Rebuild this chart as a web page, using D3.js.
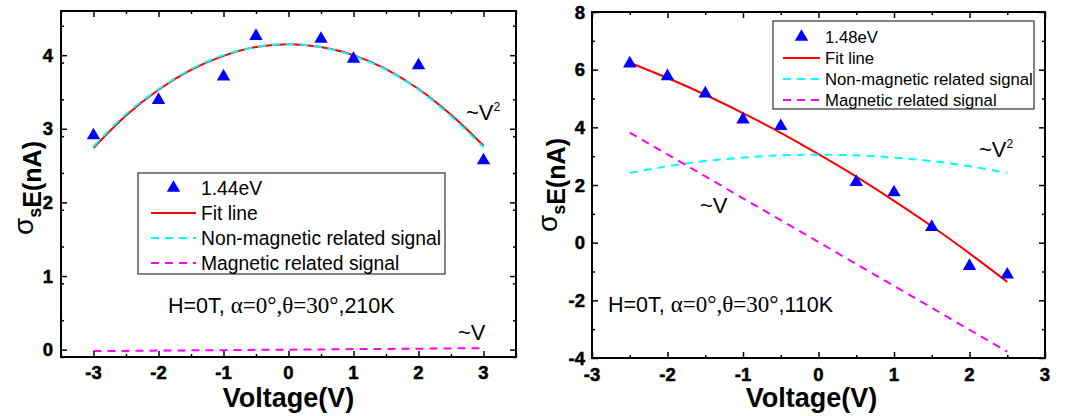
<!DOCTYPE html>
<html>
<head>
<meta charset="utf-8">
<script src="https://cdn.jsdelivr.net/npm/d3@7"></script>
<style>
  body { margin: 0; background: #fff; }
  svg { display: block; }
</style>
</head>
<body>
<div id="chart"></div>
<script>
// ---- data ----
// left panel: 1.44eV, 210K
const leftVoltage = [-3, -2, -1, -0.5, 0.5, 1, 2, 3];
const leftSignal = [2.91, 3.39, 3.71, 4.26, 4.22, 3.95, 3.86, 2.57];
const leftCurveVoltage = [-3, -2.5, -2, -1.5, -1, -0.5, 0, 0.5, 1, 1.5, 2, 2.5, 3];
const leftFit = [2.74, 3.18, 3.53, 3.80, 3.99, 4.11, 4.15, 4.11, 4.00, 3.81, 3.54, 3.19, 2.77];
const leftNonMag = [2.76, 3.20, 3.54, 3.81, 4.00, 4.11, 4.15, 4.11, 3.99, 3.80, 3.53, 3.17, 2.75];
const leftMag = [-0.02, -0.017, -0.013, -0.01, -0.007, -0.003, 0, 0.003, 0.007, 0.01, 0.013, 0.017, 0.02];
const leftXTicks = [-3, -2, -1, 0, 1, 2, 3];
const leftYTicks = [0, 1, 2, 3, 4];

// right panel: 1.48eV, 110K
const rightVoltage = [-2.5, -2, -1.5, -1, -0.5, 0.5, 1, 1.5, 2, 2.5];
const rightSignal = [6.21, 5.77, 5.17, 4.27, 4.04, 2.10, 1.74, 0.54, -0.81, -1.11];
const rightCurveVoltage = [-2.5, -2, -1.5, -1, -0.5, 0, 0.5, 1, 1.5, 2, 2.5];
const rightFit = [6.24, 5.71, 5.13, 4.49, 3.81, 3.07, 2.29, 1.45, 0.57, -0.37, -1.36];
const rightNonMag = [2.42, 2.65, 2.83, 2.95, 3.03, 3.05, 3.03, 2.95, 2.83, 2.65, 2.42];
const rightMag = [3.82, 3.06, 2.30, 1.54, 0.78, 0.02, -0.74, -1.50, -2.26, -3.02, -3.78];
const rightXTicks = [-3, -2, -1, 0, 1, 2, 3];
const rightYTicks = [-4, -2, 0, 2, 4, 6, 8];

const legendLabels = ['Fit line', 'Non-magnetic related signal', 'Magnetic related signal'];

const SANS = '"Liberation Sans", Arial, sans-serif';
const SERIF = '"Liberation Serif", "Times New Roman", serif';

const svg = d3.select('#chart').append('svg')
    .attr('width', 1084)
    .attr('height', 416);

const halves = (domain, step) => d3.range(domain[0], domain[1] + 1e-9, step);

const drawPanel = (p) => {
    const x = d3.scaleLinear().domain(p.xDomain).range([p.left, p.right]);
    const y = d3.scaleLinear().domain(p.yDomain).range([p.bottom, p.top]);
    const g = svg.append('g');
    const w = p.right - p.left;
    const h = p.bottom - p.top;

    // curves
    const line = (xs, ys) => d3.line()
        .x((d, i) => x(xs[i]))
        .y(d => y(d))
        .curve(d3.curveMonotoneX)(ys);

    g.append('path').attr('d', line(p.curveV, p.fit))
        .attr('fill', 'none').attr('stroke', '#ff0000').attr('stroke-width', 2);
    g.append('path').attr('d', line(p.curveV, p.nonMag))
        .attr('fill', 'none').attr('stroke', '#00ffff').attr('stroke-width', 2)
        .attr('stroke-dasharray', '8,6');
    g.append('path').attr('d', line(p.curveV, p.mag))
        .attr('fill', 'none').attr('stroke', '#ff00ff').attr('stroke-width', 2)
        .attr('stroke-dasharray', '8,6');

    // points
    const tri = d3.symbol().type(d3.symbolTriangle).size(78);
    g.selectAll('path.pt')
        .data(p.voltage)
        .enter().append('path')
            .attr('class', 'pt')
            .attr('d', tri)
            .attr('transform', (d, i) => `translate(${x(d)},${y(p.signal[i])})`)
            .attr('fill', '#0000ff');

    // tick marks, inward on all four sides
    const styleAxis = sel => {
        sel.select('.domain').remove();
        sel.selectAll('text').remove();
        sel.selectAll('line').attr('stroke', '#000').attr('stroke-width', 1.5);
    };
    const xMinor = halves(p.xDomain, 0.5).filter(v => !p.xTicks.includes(v));
    const yMinor = halves(p.yDomain, p.yMinorStep).filter(v => !p.yTicks.includes(v));
    const tickSets = [
        [d3.axisBottom, x, p.xTicks, 6, `translate(0,${p.bottom})`],
        [d3.axisBottom, x, xMinor, 3, `translate(0,${p.bottom})`],
        [d3.axisTop, x, p.xTicks, 6, `translate(0,${p.top})`],
        [d3.axisTop, x, xMinor, 3, `translate(0,${p.top})`],
        [d3.axisLeft, y, p.yTicks, 6, `translate(${p.left},0)`],
        [d3.axisLeft, y, yMinor, 3, `translate(${p.left},0)`],
        [d3.axisRight, y, p.yTicks, 6, `translate(${p.right},0)`],
        [d3.axisRight, y, yMinor, 3, `translate(${p.right},0)`]
    ];
    tickSets.forEach(([axisFn, scale, values, len, tr]) => {
        g.append('g').attr('transform', tr)
            .call(axisFn(scale).tickValues(values).tickSize(-len))
            .call(styleAxis);
    });

    // tick labels (bold, a touch heavier like the scan)
    const boldLabel = sel => sel
        .attr('font-family', SANS).attr('font-weight', 'bold').attr('font-size', 18.5)
        .attr('fill', '#000').attr('stroke', '#000').attr('stroke-width', 0.5);
    g.selectAll('text.xl')
        .data(p.xTicks)
        .enter().append('text')
            .attr('class', 'xl')
            .attr('x', d => x(d))
            .attr('y', p.xLabelY)
            .attr('text-anchor', 'middle')
            .call(boldLabel)
            .text(d => String(d));
    g.selectAll('text.yl')
        .data(p.yTicks)
        .enter().append('text')
            .attr('class', 'yl')
            .attr('x', p.left - p.yPad)
            .attr('y', d => y(d))
            .attr('dy', '0.36em')
            .attr('text-anchor', 'end')
            .call(boldLabel)
            .text(d => String(d));

    // frame
    g.append('rect')
        .attr('x', p.left).attr('y', p.top)
        .attr('width', w).attr('height', h)
        .attr('fill', 'none').attr('stroke', '#000').attr('stroke-width', 2);

    // axis titles
    g.append('text')
        .attr('x', p.left + w / 2 + p.xTitleShift).attr('y', 407)
        .attr('text-anchor', 'middle')
        .attr('font-family', SANS).attr('font-weight', 'bold').attr('font-size', 27)
        .text('Voltage(V)');

    const yt = g.append('text')
        .attr('transform', `translate(${p.yTitleX},${p.yTitleY}) rotate(-90)`)
        .attr('text-anchor', 'middle')
        .attr('font-family', SANS).attr('font-weight', 'bold').attr('font-size', 25);
    yt.append('tspan').attr('font-weight', 'normal').attr('font-size', 28).attr('dy', -8).text('σ');
    yt.append('tspan').attr('font-size', 18).attr('dy', 8).text('s');
    yt.append('tspan').text('E(nA)');

    // annotations
    const note = (tx, ty, size, sup) => {
        const t = g.append('text')
            .attr('x', tx).attr('y', ty)
            .attr('font-family', SANS).attr('font-size', size);
        t.append('tspan').text('~V');
        if (sup) {
            t.append('tspan').attr('font-size', size * 0.55).attr('dy', -size * 0.42).text('2');
        }
    };
    note(p.v2[0], p.v2[1], 22, true);
    note(p.v1[0], p.v1[1], 22, false);

    const info = g.append('text')
        .attr('x', p.info[0]).attr('y', p.info[1])
        .attr('font-family', SANS).attr('font-size', 21.5);
    info.append('tspan').text('H=0T, ');
    info.append('tspan').attr('font-family', SERIF).attr('font-size', 23).text('α=0°,θ=30°');
    info.append('tspan').text(',' + p.temp);

    // legend
    const lg = p.legend;
    g.append('rect')
        .attr('x', lg.x0).attr('y', lg.y0)
        .attr('width', lg.x1 - lg.x0).attr('height', lg.y1 - lg.y0)
        .attr('fill', '#fff').attr('stroke', '#333').attr('stroke-width', 1.2);
    const rows = [p.energy].concat(legendLabels);
    const styles = [null, ['#ff0000', null], ['#00ffff', '8,6'], ['#ff00ff', '8,6']];
    rows.forEach((label, i) => {
        const cy = lg.rowY[i];
        if (i === 0) {
            g.append('path').attr('d', tri)
                .attr('transform', `translate(${(lg.lineX0 + lg.lineX1) / 2},${cy})`)
                .attr('fill', '#0000ff');
        } else {
            g.append('line')
                .attr('x1', lg.lineX0).attr('x2', lg.lineX1)
                .attr('y1', cy).attr('y2', cy)
                .attr('stroke', styles[i][0]).attr('stroke-width', 2)
                .attr('stroke-dasharray', styles[i][1]);
        }
        g.append('text')
            .attr('x', lg.textX).attr('y', cy)
            .attr('dy', '0.35em')
            .attr('font-family', SANS).attr('font-size', lg.size)
            .text(label);
    });
};

drawPanel({
    left: 61, right: 516, top: 11, bottom: 357,
    xDomain: [-3.5, 3.5], yDomain: [-0.1, 4.6],
    xTicks: leftXTicks, yTicks: leftYTicks, yMinorStep: 0.5,
    xLabelY: 379, yPad: 8, xTitleShift: 0, yTitleX: 41, yTitleY: 188,
    voltage: leftVoltage, signal: leftSignal,
    curveV: leftCurveVoltage, fit: leftFit, nonMag: leftNonMag, mag: leftMag,
    v2: [466, 120], v1: [458, 340], info: [168, 313], temp: '210K',
    energy: '1.44eV',
    legend: { x0: 138, y0: 173, x1: 445, y1: 274, rowY: [188, 213, 238, 263],
              lineX0: 151, lineX1: 196, textX: 201, size: 19.3 }
});

drawPanel({
    left: 592, right: 1045, top: 12, bottom: 358,
    xDomain: [-3, 3], yDomain: [-4, 8],
    xTicks: rightXTicks, yTicks: rightYTicks, yMinorStep: 1,
    xLabelY: 381, yPad: 7, xTitleShift: -7, yTitleX: 565, yTitleY: 185,
    voltage: rightVoltage, signal: rightSignal,
    curveV: rightCurveVoltage, fit: rightFit, nonMag: rightNonMag, mag: rightMag,
    v2: [979, 157], v1: [700, 213], info: [608, 312], temp: '110K',
    energy: '1.48eV',
    legend: { x0: 773, y0: 21, x1: 1034, y1: 109, rowY: [37, 58, 79, 100],
              lineX0: 783, lineX1: 820, textX: 825, size: 16.7 }
});
</script>
</body>
</html>
